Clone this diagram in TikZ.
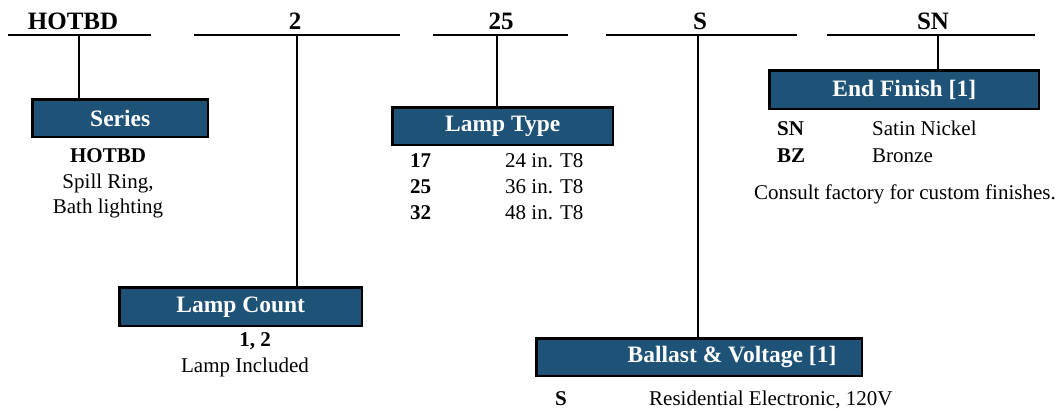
\documentclass[tikz,border=0pt]{standalone}
\usepackage{fontspec}
\setmainfont{Liberation Serif}
\definecolor{boxblue}{HTML}{1E5277}
\tikzset{
  hdr/.style={font=\fontsize{25}{30}\selectfont\bfseries, anchor=base, inner sep=0pt},
  hline/.style={line width=2pt},
  conn/.style={line width=2pt},
  catbox/.style={draw=black, line width=2.5pt, fill=boxblue, text=white,
     font=\fontsize{23.5}{28}\selectfont\bfseries, inner sep=0pt, anchor=north west},
  body/.style={font=\fontsize{21}{25}\selectfont, inner sep=0pt, anchor=base west},
  bodyb/.style={font=\fontsize{21}{25}\selectfont\bfseries, inner sep=0pt, anchor=base west},
  bodyc/.style={font=\fontsize{21}{25}\selectfont, inner sep=0pt, anchor=base},
  bodycb/.style={font=\fontsize{21}{25}\selectfont\bfseries, inner sep=0pt, anchor=base},
}
\begin{document}
\begin{tikzpicture}[x=1pt,y=-1pt]
\useasboundingbox (0,0) rectangle (1060,411);

% header labels
\node[hdr] (t1) at (73,30) {HOTBD};
\node[hdr] (t2) at (295,30) {2};
\node[hdr] (t3) at (501,30) {25};
\node[hdr] (t4) at (700,30) {S};
\node[hdr] (t5) at (933,30) {SN};

% header lines
\coordinate (l1a) at (8,35);   \coordinate (l1b) at (151,35);
\coordinate (l2a) at (194,35); \coordinate (l2b) at (400,35);
\coordinate (l3a) at (433,35); \coordinate (l3b) at (568,35);
\coordinate (l4a) at (606,35); \coordinate (l4b) at (797,35);
\coordinate (l5a) at (827,35); \coordinate (l5b) at (1035,35);
\draw[hline] (l1a) -- (l1b);
\draw[hline] (l2a) -- (l2b);
\draw[hline] (l3a) -- (l3b);
\draw[hline] (l4a) -- (l4b);
\draw[hline] (l5a) -- (l5b);

\coordinate (c1) at (79,35);
\coordinate (c2) at (296.5,35);
\coordinate (c3) at (497,35);
\coordinate (c4) at (697.5,35);
\coordinate (c5) at (938,35);

% category boxes
\node[catbox, minimum width=175.5pt, minimum height=37.5pt] (series) at (31.25,98.25) {Series};
\node[catbox, minimum width=242.5pt, minimum height=38.5pt] (count) at (118.25,286.25) {Lamp Count};
\node[catbox, minimum width=220.5pt, minimum height=37.5pt] (type) at (391.25,106.25) {Lamp Type};
\node[catbox, minimum width=325.5pt, minimum height=37.5pt] (ballast) at (535.25,337.25) {};
\node[font=\fontsize{23.5}{28}\selectfont\bfseries, text=white, inner sep=0pt] (ballastlbl) at (ballast.center -| 732,0) {Ballast \& Voltage [1]};
\node[catbox, minimum width=269.5pt, minimum height=38.5pt] (finish) at (768.25,69.25) {End Finish [1]};

% connectors
\draw[conn] (c1) -- (c1 |- series.north);
\draw[conn] (c2) -- (c2 |- count.north);
\draw[conn] (c3) -- (c3 |- type.north);
\draw[conn] (c4) -- (c4 |- ballast.north);
\draw[conn] (c5) -- (c5 |- finish.north);

% series body
\node[bodycb] (s1) at (108,163) {HOTBD};
\node[bodyc] (s2) at (108,189) {Spill Ring,};
\node[bodyc] (s3) at (108,214) {Bath lighting};

% lamp count body
\node[bodycb] (n1) at (255,347) {1, 2};
\node[bodyc] (n2) at (245,373) {Lamp Included};

% lamp type body
\node[bodyb] (k1) at (410,168) {17};
\node[body]  (v1) at (505,168) {24 in. T8};
\node[bodyb] (k2) at (410,194) {25};
\node[body]  (v2) at (505,194) {36 in. T8};
\node[bodyb] (k3) at (410,220) {32};
\node[body]  (v3) at (505,220) {48 in. T8};

% end finish body
\node[bodyb] (f1) at (777,136) {SN};
\node[body]  (g1) at (872,136) {Satin Nickel};
\node[bodyb] (f2) at (777,163) {BZ};
\node[body]  (g2) at (872,163) {Bronze};
\node[body]  (f3) at (754,200) {Consult factory for custom finishes.};

% ballast body
\node[bodyb] (b1) at (555,406) {S};
\node[body]  (b2) at (649,406) {Residential Electronic, 120V};
\end{tikzpicture}
\end{document}
